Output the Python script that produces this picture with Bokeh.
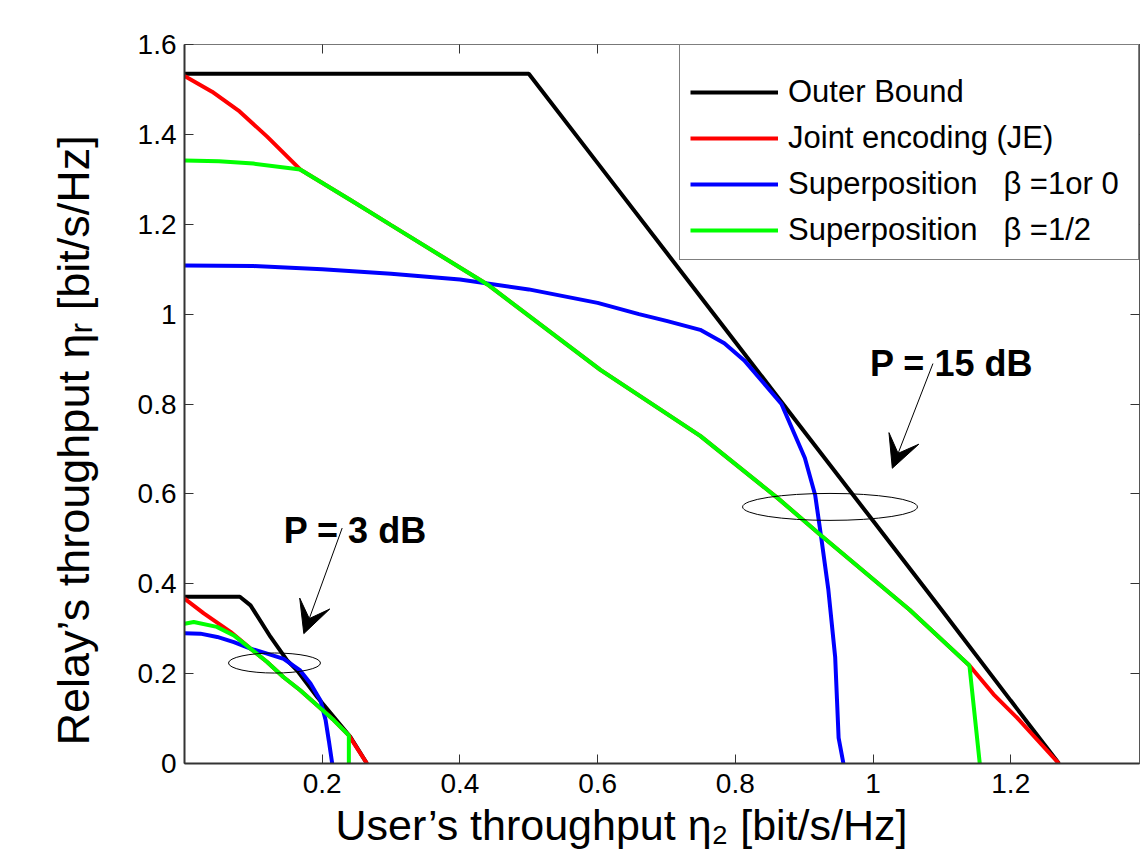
from bokeh.plotting import figure
from bokeh.models import (Range1d, FixedTicker, LinearAxis, Legend, LegendItem,
                          Label, Arrow, VeeHead, Title)
from bokeh.embed import file_html
from bokeh.resources import INLINE

FONT = "Liberation Sans"

# ---------------- data ----------------
# P = 15 dB
ob15_x = [0.0, 0.5, 0.6, 0.7, 0.8, 0.9, 1.0, 1.1, 1.2, 1.27]
ob15_y = [1.535, 1.535, 1.336, 1.137, 0.938, 0.739, 0.54, 0.341, 0.14, 0.0]

je15_x = [0.0, 0.04, 0.08, 0.12, 0.168, 0.241, 0.3, 0.44, 0.604, 0.749, 0.862,
          0.925, 1.053, 1.14, 1.175, 1.209, 1.27]
je15_y = [1.53, 1.495, 1.451, 1.395, 1.322, 1.254, 1.198, 1.066, 0.876, 0.729,
          0.59, 0.507, 0.342, 0.218, 0.154, 0.102, 0.0]

sp1_15_x = [0.0, 0.1, 0.2, 0.3, 0.4, 0.5, 0.6, 0.66, 0.7, 0.749, 0.784, 0.813,
            0.867, 0.901, 0.916, 0.925, 0.935, 0.945, 0.95, 0.957]
sp1_15_y = [1.108, 1.107, 1.1, 1.09, 1.077, 1.055, 1.025, 1.0, 0.985, 0.965,
            0.935, 0.897, 0.8, 0.68, 0.597, 0.5, 0.388, 0.237, 0.057, 0.0]

sph_15_x = [0.0, 0.05, 0.1, 0.168, 0.241, 0.3, 0.44, 0.604, 0.749, 0.862, 0.925,
            1.053, 1.14, 1.155]
sph_15_y = [1.342, 1.34, 1.335, 1.322, 1.254, 1.198, 1.066, 0.876, 0.729, 0.59,
            0.507, 0.342, 0.218, 0.0]

# P = 3 dB
ob3_x = [0.0, 0.0804, 0.0959, 0.125, 0.149, 0.1637, 0.1927, 0.241, 0.265]
ob3_y = [0.371, 0.371, 0.352, 0.2816, 0.2296, 0.207, 0.148, 0.0587, 0.0]

je3_x = [0.0, 0.028, 0.0668, 0.0959, 0.12, 0.144, 0.168, 0.193, 0.217, 0.2387, 0.265]
je3_y = [0.367, 0.334, 0.293, 0.2557, 0.226, 0.192, 0.163, 0.129, 0.096, 0.0624, 0.0]

sp1_3_x = [0.0, 0.023, 0.0475, 0.0717, 0.0959, 0.12, 0.144, 0.168, 0.183, 0.1975,
           0.205, 0.2096, 0.2145]
sp1_3_y = [0.29, 0.289, 0.2816, 0.27, 0.2557, 0.2445, 0.233, 0.207, 0.178, 0.14,
           0.096, 0.051, 0.0]

sph_3_x = [0.0, 0.0135, 0.047, 0.0717, 0.0959, 0.12, 0.144, 0.168, 0.193, 0.217,
           0.2387, 0.2387]
sph_3_y = [0.311, 0.315, 0.304, 0.285, 0.2557, 0.226, 0.192, 0.163, 0.129, 0.096,
           0.0624, 0.0]

x_ticks = [0.2, 0.4, 0.6, 0.8, 1.0, 1.2, 1.4]
x_tick_labels = ["0.2", "0.4", "0.6", "0.8", "1", "1.2", "1.4"]
y_ticks = [0.0, 0.2, 0.4, 0.6, 0.8, 1.0, 1.2, 1.4, 1.6]
y_tick_labels = ["0", "0.2", "0.4", "0.6", "0.8", "1", "1.2", "1.4", "1.6"]

legend_labels = ["Outer Bound", "Joint encoding (JE)",
                 "Superposition   \u03b2 =1or 0", "Superposition   \u03b2 =1/2"]
colors = ["#000000", "#ff0000", "#0000ff", "#00ff00"]

# annotations (ellipse centres / sizes, arrows, texts) in data units
ell15 = dict(x=0.9375, y=0.571, w=0.254, h=0.060)
ell3 = dict(x=0.1307, y=0.2236, w=0.1336, h=0.0446)
arrow15 = (1.087, 0.89, 1.028, 0.657)
arrow3 = (0.229, 0.524, 0.1733, 0.289)
txt15 = (1.114, 0.89, "P = 15 dB")
txt3 = (0.248, 0.519, "P = 3 dB")

# ---------------- figure ----------------
p = figure(width=1145, height=855, x_range=Range1d(0, 1.387), y_range=Range1d(0, 1.6),
           output_backend="svg", toolbar_location=None, title=None,
           min_border_left=184, min_border_top=44, min_border_right=6,
           min_border_bottom=92)
p.grid.visible = False
p.outline_line_color = "#555555"
p.outline_line_width = 1
p.background_fill_color = "white"
p.border_fill_color = "white"


def style_axis(ax, labels_visible=True):
    ax.major_tick_in = 9
    ax.major_tick_out = 0
    ax.minor_tick_line_color = None
    ax.major_tick_line_color = "#333333"
    ax.major_tick_line_width = 1
    ax.axis_line_color = "#333333"
    ax.axis_line_width = 2
    ax.major_label_text_font = FONT
    if labels_visible:
        ax.major_label_text_font_size = "28px"
        ax.major_label_text_color = "black"
    else:
        ax.major_label_text_font_size = "1px"
        ax.major_label_text_color = None
        ax.major_label_standoff = 0
        ax.axis_line_width = 1


p.xaxis.ticker = FixedTicker(ticks=x_ticks)
p.yaxis.ticker = FixedTicker(ticks=y_ticks)
p.xaxis.major_label_overrides = dict(zip(x_ticks, x_tick_labels))
p.yaxis.major_label_overrides = dict(zip(y_ticks, y_tick_labels))
style_axis(p.xaxis[0])
style_axis(p.yaxis[0])
p.xaxis.major_label_standoff = 10
p.yaxis.major_label_standoff = 8

top_ax = LinearAxis(ticker=FixedTicker(ticks=x_ticks))
right_ax = LinearAxis(ticker=FixedTicker(ticks=y_ticks))
style_axis(top_ax, False)
style_axis(right_ax, False)
top_ax.axis_line_color = "#777777"
right_ax.axis_line_color = "#555555"
p.add_layout(top_ax, "above")
p.add_layout(right_ax, "right")

# axis titles
p.add_layout(Title(text="User\u2019s throughput \u03b7\u2082  [bit/s/Hz]", align="left",
                   offset=151, text_font=FONT, text_font_size="43px",
                   text_font_style="normal", text_color="black", standoff=6), "below")
p.add_layout(Title(text="Relay\u2019s throughput \u03b7\u1d63  [bit/s/Hz]", align="left",
                   offset=18, text_font=FONT, text_font_size="45px",
                   text_font_style="normal", text_color="black", standoff=72), "left")

# curves
series15 = [(ob15_x, ob15_y), (je15_x, je15_y), (sp1_15_x, sp1_15_y), (sph_15_x, sph_15_y)]
series3 = [(ob3_x, ob3_y), (je3_x, je3_y), (sp1_3_x, sp1_3_y), (sph_3_x, sph_3_y)]
renderers = []
for (xs, ys), c in zip(series15, colors):
    renderers.append(p.line(xs, ys, line_color=c, line_width=4))
for (xs, ys), c in zip(series3, colors):
    p.line(xs, ys, line_color=c, line_width=4)

# ellipses
for e in (ell15, ell3):
    p.ellipse(x=[e["x"]], y=[e["y"]], width=[e["w"]], height=[e["h"]],
              fill_color=None, line_color="black", line_width=1)

# arrows
for (xs, ys, xe, ye) in (arrow15, arrow3):
    p.add_layout(Arrow(x_start=xs, y_start=ys, x_end=xe, y_end=ye, line_width=1,
                       line_color="black",
                       end=VeeHead(size=32, fill_color="black", line_color="black",
                                   line_width=1)))

for (tx, ty, tt) in (txt15, txt3):
    p.add_layout(Label(x=tx, y=ty, text=tt, text_font=FONT, text_font_size="36px",
                       text_font_style="bold", text_align="center",
                       text_baseline="alphabetic", text_color="black"))

legend = Legend(items=[LegendItem(label=l, renderers=[r]) for l, r in zip(legend_labels, renderers)],
                location="top_right", margin=0, padding=10,
                title=" ", title_text_font_size="14px", title_standoff=2,
                label_text_font=FONT, label_text_font_size="31px", label_text_color="black",
                label_height=38, glyph_height=38, glyph_width=88, spacing=8,
                label_width=340,
                label_standoff=10, border_line_color="black", border_line_width=1.5,
                background_fill_color="white", background_fill_alpha=1.0)
p.add_layout(legend)

open("out.html", "w").write(file_html(p, INLINE))
